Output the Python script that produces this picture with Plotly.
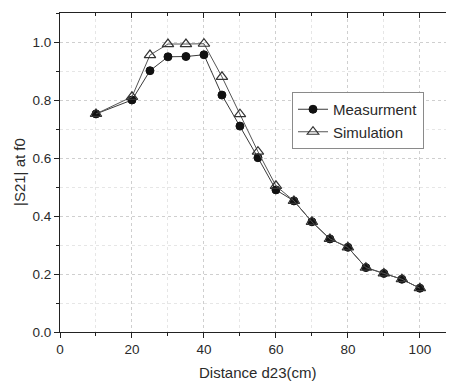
import plotly.graph_objects as go

distance = [10, 20, 25, 30, 35, 40, 45, 50, 55, 60, 65, 70, 75, 80, 85, 90, 95, 100]
measurement = [0.752, 0.800, 0.901, 0.949, 0.950, 0.956, 0.817, 0.710, 0.601, 0.490, 0.452, 0.380, 0.321, 0.292, 0.222, 0.202, 0.182, 0.151]
simulation = [0.752, 0.811, 0.955, 0.993, 0.993, 0.994, 0.880, 0.751, 0.622, 0.504, 0.452, 0.380, 0.321, 0.292, 0.222, 0.202, 0.182, 0.151]

x_ticks = [0, 20, 40, 60, 80, 100]
y_ticks = [0.0, 0.2, 0.4, 0.6, 0.8, 1.0]
y_ticklabels = ["0.0", "0.2", "0.4", "0.6", "0.8", "1.0"]

FONT = "Liberation Sans, Arial, sans-serif"
TXT = "#2a2a2a"
OFF = 8  # page body margin
W, H = 454 - OFF, 381 - OFF
ML, MR, MT, MB = 60 - OFF, 1, 13 - OFF, 49


def px_x(p):
    return (p - OFF - ML) / (W - ML - MR)


def px_y(p):
    return 1 - (p - OFF - MT) / (H - MT - MB)


fig = go.Figure()
fig.add_trace(go.Scatter(
    x=distance, y=measurement, name="Measurment", mode="lines+markers",
    line=dict(color="#3a3a3a", width=1),
    marker=dict(symbol="circle", size=8, color="#111111", line=dict(color="#111111", width=1)),
))
fig.add_trace(go.Scatter(
    x=distance, y=simulation, name="Simulation", mode="lines+markers",
    line=dict(color="#555555", width=1),
    marker=dict(symbol="triangle-up-open", size=10, color="#333333", line=dict(width=1.2)),
))
# invisible trace to carry top/right mirror axes
fig.add_trace(go.Scatter(x=[0], y=[0], xaxis="x2", yaxis="y2", mode="markers",
                         marker=dict(opacity=0), showlegend=False, hoverinfo="skip"))

axis_common = dict(showline=True, linecolor="#222", linewidth=1.2, zeroline=False,
                   tickcolor="#222", ticklen=5, tickwidth=1.2, automargin=False,
                   tickfont=dict(family=FONT, size=13.5, color=TXT))

XR = [0, 109.2]
YR = [0, 1.1]

fig.update_layout(
    width=W, height=H,
    margin=dict(l=ML, r=MR, t=MT, b=MB, autoexpand=False),
    paper_bgcolor="white", plot_bgcolor="white",
    font=dict(family=FONT, color=TXT),
    showlegend=True,
    legend=dict(x=px_x(292), y=px_y(92), xanchor="left", yanchor="top",
                bgcolor="white", bordercolor="#8a8a8a", borderwidth=1,
                font=dict(family=FONT, size=15, color=TXT),
                tracegroupgap=0),
    xaxis=dict(range=XR, tickvals=x_ticks, ticks="outside",
               showgrid=True, gridcolor="#cfcfcf", griddash="dot", gridwidth=1,
               minor=dict(dtick=10, tick0=0, ticks="outside", ticklen=3, tickcolor="#222",
                          showgrid=True, gridcolor="#e6e6e6", griddash="dot"),
               **axis_common),
    yaxis=dict(range=YR, tickvals=y_ticks, ticktext=y_ticklabels, ticks="outside",
               showgrid=True, gridcolor="#cfcfcf", griddash="dot", gridwidth=1,
               minor=dict(dtick=0.1, tick0=0, ticks="outside", ticklen=3, tickcolor="#222",
                          showgrid=True, gridcolor="#e6e6e6", griddash="dot"),
               **axis_common),
    xaxis2=dict(range=XR, overlaying="x", side="top", tickvals=x_ticks, ticks="inside",
                showticklabels=False, showgrid=False, showline=True, linecolor="#222", linewidth=1.2,
                tickcolor="#222", ticklen=5, tickwidth=1.2, zeroline=False,
                minor=dict(dtick=10, tick0=0, ticks="inside", ticklen=3, tickcolor="#222", showgrid=False)),
    yaxis2=dict(range=YR, overlaying="y", side="right", tickvals=y_ticks, ticks="inside",
                showticklabels=False, showgrid=False, showline=True, linecolor="#222", linewidth=1.2,
                tickcolor="#222", ticklen=5, tickwidth=1.2, zeroline=False,
                minor=dict(dtick=0.1, tick0=0, ticks="inside", ticklen=3, tickcolor="#222", showgrid=False)),
    annotations=[
        dict(text="Distance d23(cm)", xref="paper", yref="paper",
             x=px_x(258), y=px_y(372),
             xanchor="center", yanchor="middle", showarrow=False,
             font=dict(family=FONT, size=15, color=TXT)),
        dict(text="|S21| at f0", xref="paper", yref="paper", textangle=-90,
             x=px_x(19), y=px_y(172),
             xanchor="center", yanchor="middle", showarrow=False,
             font=dict(family=FONT, size=15, color=TXT)),
    ],
)

fig.write_html("out.html")
